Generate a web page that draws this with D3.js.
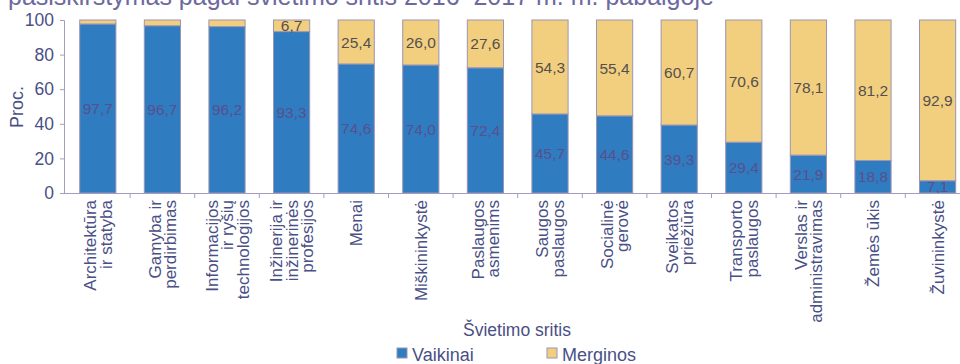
<!DOCTYPE html>
<html><head><meta charset="utf-8">
<script src="https://cdn.jsdelivr.net/npm/d3@7"></script>
<style>body{margin:0;background:#fff}svg{display:block}text{font-family:"Liberation Sans",Arial,sans-serif}</style>
</head><body>
<svg id="c" width="960" height="364"></svg>
<script>
const categories = [
  ["Architektūra","ir statyba"],
  ["Gamyba ir","perdirbimas"],
  ["Informacijos","ir ryšių","technologijos"],
  ["Inžinerija ir","inžinerinės","profesijos"],
  ["Menai"],
  ["Miškininkystė"],
  ["Paslaugos","asmenims"],
  ["Saugos","paslaugos"],
  ["Socialinė","gerovė"],
  ["Sveikatos","priežiūra"],
  ["Transporto","paslaugos"],
  ["Verslas ir","administravimas"],
  ["Žemės ūkis"],
  ["Žuvininkystė"]
];
const vaikinai = [97.7,96.7,96.2,93.3,74.6,74.0,72.4,45.7,44.6,39.3,29.4,21.9,18.8,7.1];
const merginos = [2.3,3.3,3.8,6.7,25.4,26.0,27.6,54.3,55.4,60.7,70.6,78.1,81.2,92.9];
const yTicks = [0,20,40,60,80,100];
const seriesNames = ["Vaikinai","Merginos"];
const title = "pasiskirstymas pagal švietimo sritis 2016–2017 m. m. pabaigoje";
const xTitle = "Švietimo sritis";
const yTitle = "Proc.";

const colors = {Vaikinai:"#2f7cc0", Merginos:"#f2cf7e"};
const textCol = "#4a4f86";
const axisCol = "#a49cc0";

const svg = d3.select("#c");
const keys = categories.map((c,i)=>i);
const data = keys.map(i=>({i, Vaikinai:vaikinai[i], Merginos:merginos[i]}));

const x = d3.scaleBand().domain(keys).range([65.5, 65.5+14*64.6]).paddingInner(0.44).paddingOuter(0.22);
const y = d3.scaleLinear().domain([0,100]).range([193,20]);

// title (cut off at top like the reference)
svg.append("text").attr("x",8).attr("y",5).attr("font-family","'Open Sans',sans-serif")
  .attr("font-size",25).attr("fill","#6d69a0").text(title);

const stack = d3.stack().keys(seriesNames)(data);
const fmt = v => d3.format(".1f")(v).replace(".",",");

const g = svg.append("g");
stack.forEach(s=>{
  g.selectAll(null).data(s).join("rect")
    .attr("x",d=>x(d.data.i)).attr("width",x.bandwidth())
    .attr("y",d=>y(d[1])).attr("height",d=>y(d[0])-y(d[1]))
    .attr("fill",colors[s.key]).attr("stroke","#9c94b4").attr("stroke-width",1);
});
stack.forEach(s=>{
  g.selectAll(null).data(s.filter(d=>d[1]-d[0]>=5)).join("text")
    .attr("x",d=>x(d.data.i)+x.bandwidth()/2)
    .attr("y",d=>y((d[0]+d[1])/2))
    .attr("dy","0.36em").attr("text-anchor","middle").attr("font-size",15.5)
    .attr("fill", s.key==="Vaikinai" ? "#5a4f8e" : "#55504f")
    .text(d=>fmt(d[1]-d[0]));
});

// y axis
const ya = svg.append("g").attr("transform","translate(64,0)")
  .call(d3.axisLeft(y).tickValues(yTicks).tickSize(4).tickPadding(6));
ya.select(".domain").attr("stroke",axisCol);
ya.selectAll(".tick line").attr("stroke",axisCol);
ya.selectAll(".tick text").attr("font-size",17.5).attr("fill",textCol).attr("font-family","'Liberation Sans',Arial,sans-serif");

// x axis line + ticks at band boundaries
const step = x.step();
svg.append("line").attr("x1",64).attr("x2",960).attr("y1",193.5).attr("y2",193.5).attr("stroke",axisCol);
svg.selectAll(null).data(keys.slice(1).concat([14])).join("line")
  .attr("x1",i=>x.range()[0]+i*step).attr("x2",i=>x.range()[0]+i*step)
  .attr("y1",193).attr("y2",198).attr("stroke",axisCol);

// category labels
const cl = svg.append("g");
categories.forEach((lines,i)=>{
  const cx = x(i)+x.bandwidth()/2;
  const t = cl.append("text").attr("transform",`translate(${cx},200) rotate(-90)`)
    .attr("text-anchor","end").attr("font-size",17).attr("fill",textCol);
  lines.forEach((ln,k)=>{
    t.append("tspan").attr("x",0).attr("y",(k-(lines.length-1)/2)*15.5).attr("dy","0.36em").text(ln);
  });
});

// axis titles
svg.append("text").attr("transform","translate(17,107) rotate(-90)").attr("text-anchor","middle")
  .attr("dy","0.36em").attr("font-size",18).attr("fill",textCol).text(yTitle);
svg.append("text").attr("x",517).attr("y",336).attr("text-anchor","middle")
  .attr("font-size",17.5).attr("fill",textCol).text(xTitle);

// legend
const leg = svg.append("g");
const legX = [397,547];
seriesNames.forEach((n,k)=>{
  leg.append("rect").attr("x",legX[k]).attr("y",348).attr("width",10).attr("height",10)
    .attr("fill",colors[n]).attr("stroke","#9c94b4");
  leg.append("text").attr("x",legX[k]+15).attr("y",361).attr("font-size",18).attr("fill",textCol).text(n);
});
</script>
</body></html>
